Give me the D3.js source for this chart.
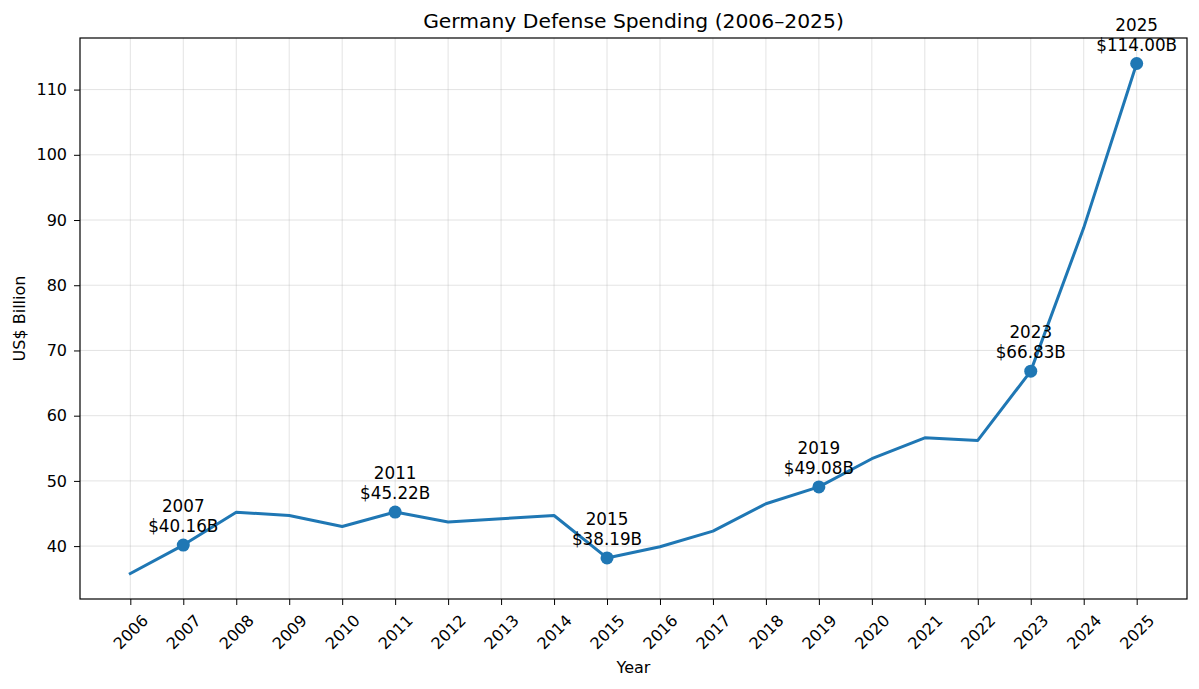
<!DOCTYPE html>
<html><head><meta charset="utf-8">
<script src="https://cdn.jsdelivr.net/npm/d3@7"></script>
<style>body{margin:0;background:#fff}svg{display:block;font-family:"DejaVu Sans",sans-serif}</style>
</head><body><svg id="c" width="1199" height="689"></svg>
<script>
const years = [2006,2007,2008,2009,2010,2011,2012,2013,2014,2015,2016,2017,2018,2019,2020,2021,2022,2023,2024,2025];
const spending = [35.8,40.16,45.2,44.7,43.0,45.22,43.7,44.2,44.7,38.19,39.9,42.3,46.5,49.08,53.4,56.6,56.2,66.83,88.8,114.00];
const highlightYears = [2007,2011,2015,2019,2023,2025];
const yTicks = [40,50,60,70,80,90,100,110];

const W=1199,H=689, L=80, R=1187, T=38, B=599;
const svg=d3.select("#c");
const xMin=d3.min(years), xMax=d3.max(years);
const xPad=(xMax-xMin)*0.05;
const x=d3.scaleLinear().domain([xMin-xPad,xMax+xPad]).range([L,R]);
const yMin=d3.min(spending), yMax=d3.max(spending), yPad=(yMax-yMin)*0.05;
const y=d3.scaleLinear().domain([yMin-yPad,yMax+yPad]).range([B,T]);

// grid
const g=svg.append("g");
g.selectAll("line.vx").data(years).enter().append("line")
 .attr("x1",d=>x(d)).attr("x2",d=>x(d)).attr("y1",T).attr("y2",B)
 .attr("stroke","#b0b0b0").attr("stroke-opacity",0.35).attr("stroke-width",1);
g.selectAll("line.hy").data(yTicks).enter().append("line")
 .attr("x1",L).attr("x2",R).attr("y1",d=>y(d)).attr("y2",d=>y(d))
 .attr("stroke","#b0b0b0").attr("stroke-opacity",0.35).attr("stroke-width",1);

// axes
const xAxis=svg.append("g").attr("transform",`translate(0,${B})`)
 .call(d3.axisBottom(x).tickValues(years).tickFormat(d3.format("d")).tickSize(6).tickSizeOuter(0));
xAxis.select(".domain").remove();
xAxis.selectAll("line").attr("stroke","#000").attr("stroke-width",1);
xAxis.selectAll("text").attr("font-size",16).attr("fill","#000").attr("font-family","DejaVu Sans")
 .attr("text-anchor","middle").attr("dominant-baseline","central").attr("dy",null)
 .attr("x",0).attr("y",0)
 .attr("transform","translate(0,33) rotate(-45)");

const yAxis=svg.append("g").attr("transform",`translate(${L},0)`)
 .call(d3.axisLeft(y).tickValues(yTicks).tickSize(6).tickSizeOuter(0));
yAxis.select(".domain").remove();
yAxis.selectAll("line").attr("stroke","#000").attr("stroke-width",1);
yAxis.selectAll("text").attr("font-size",16).attr("fill","#000").attr("font-family","DejaVu Sans").attr("x",-13);

// frame
svg.append("rect").attr("x",L).attr("y",T).attr("width",R-L).attr("height",B-T)
 .attr("fill","none").attr("stroke","#000").attr("stroke-width",1.2);

// line
const pts=years.map((d,i)=>({year:d,v:spending[i]}));
svg.append("path").datum(pts).attr("fill","none").attr("stroke","#1f77b4").attr("stroke-width",3)
 .attr("stroke-linejoin","round").attr("stroke-linecap","square")
 .attr("d",d3.line().x(d=>x(d.year)).y(d=>y(d.v)));

const hp=pts.filter(d=>highlightYears.includes(d.year));
svg.selectAll("circle.h").data(hp).enter().append("circle")
 .attr("cx",d=>x(d.year)).attr("cy",d=>y(d.v)).attr("r",6.5).attr("fill","#1f77b4");

const ann=svg.selectAll("g.ann").data(hp).enter().append("g");
ann.append("text").attr("x",d=>x(d.year)).attr("y",d=>y(d.v)-33).attr("text-anchor","middle")
 .attr("font-size",16.8).attr("fill","#000").text(d=>d.year);
ann.append("text").attr("x",d=>x(d.year)).attr("y",d=>y(d.v)-13).attr("text-anchor","middle")
 .attr("font-size",16.8).attr("fill","#000").text(d=>"$"+d.v.toFixed(2)+"B");

// labels
svg.append("text").attr("x",(L+R)/2).attr("y",28).attr("text-anchor","middle").attr("font-size",20.3).attr("fill","#000")
 .text("Germany Defense Spending (2006–2025)");
svg.append("text").attr("x",(L+R)/2).attr("y",673).attr("text-anchor","middle").attr("font-size",16).attr("fill","#000").text("Year");
svg.append("text").attr("transform",`translate(25,${(T+B)/2}) rotate(-90)`).attr("text-anchor","middle").attr("font-size",16).attr("fill","#000").text("US$ Billion");
</script></body></html>
